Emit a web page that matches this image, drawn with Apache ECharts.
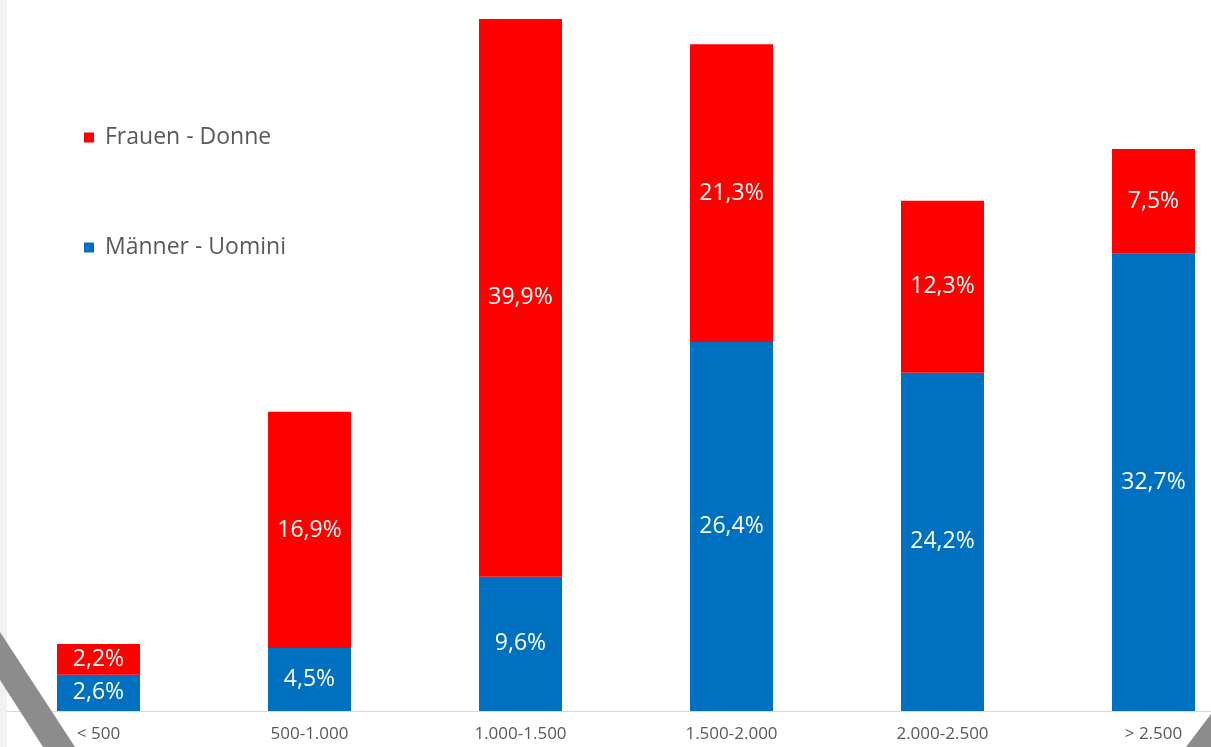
<!DOCTYPE html>
<html>
<head>
<meta charset="utf-8">
<script src="https://cdn.jsdelivr.net/npm/echarts@6/dist/echarts.min.js"></script>
<style>html,body{margin:0;padding:0;background:#fff}#c{width:1211px;height:747px}</style>
</head>
<body>
<div id="c"></div>
<script>
const categories = ['< 500', '500-1.000', '1.000-1.500', '1.500-2.000', '2.000-2.500', '> 2.500'];
const men = [2.6, 4.5, 9.6, 26.4, 24.2, 32.7];
const women = [2.2, 16.9, 39.9, 21.3, 12.3, 7.5];
const seriesNames = ['Männer - Uomini', 'Frauen - Donne'];

const chart = echarts.init(document.getElementById('c'));
const fmt = p => p.value.toFixed(1).replace('.', ',') + '%';
const labelStyle = {
  show: true, position: 'inside', color: '#fff',
  fontFamily: 'Open Sans', fontSize: 23, formatter: fmt
};
chart.setOption({
  animation: false,
  backgroundColor: '#fff',
  grid: { left: -7, width: 1266, top: 12, height: 699, containLabel: false, outerBoundsMode: 'none' },
  legend: {
    data: [seriesNames[1], seriesNames[0]],
    orient: 'vertical', left: 79, top: 121,
    itemWidth: 10, itemHeight: 10, itemGap: 87,
    icon: 'rect',
    textStyle: { color: '#595959', fontFamily: 'Open Sans', fontSize: 23, padding: [0, 0, 0, 6] }
  },
  xAxis: {
    type: 'category', data: categories,
    axisLine: { lineStyle: { color: '#d9d9d9', width: 1 } },
    axisTick: { show: false },
    axisLabel: { color: '#595959', fontFamily: 'Open Sans', fontSize: 17, margin: 15, interval: 0 }
  },
  yAxis: { type: 'value', min: 0, max: 50, show: false, splitLine: { show: false } },
  series: [
    { name: seriesNames[0], type: 'bar', stack: 's', data: men, barWidth: 83,
      itemStyle: { color: '#0070C0' }, label: labelStyle },
    { name: seriesNames[1], type: 'bar', stack: 's', data: women, barWidth: 83,
      itemStyle: { color: '#FF0000' }, label: labelStyle }
  ],
  graphic: [
    { type: 'rect', shape: { x: 0, y: 0, width: 7, height: 747 }, style: { fill: '#f1f1f1' }, z: 100 },
    { type: 'polygon', shape: { points: [[0, 632], [75, 747], [43, 747], [0, 680]] }, style: { fill: '#8c8c8c' }, z: 100 },
    { type: 'polygon', shape: { points: [[1186, 747], [1211, 747], [1211, 714]] }, style: { fill: '#8c8c8c' }, z: 100 }
  ]
});
</script>
</body>
</html>
